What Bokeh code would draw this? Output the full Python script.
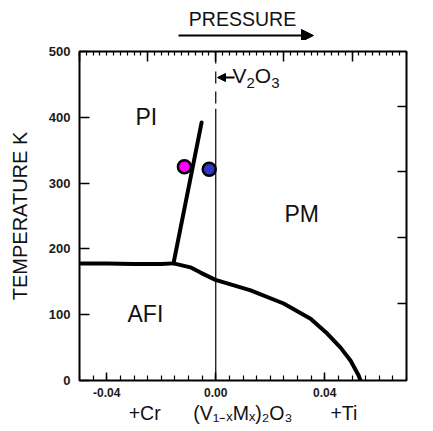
from bokeh.plotting import figure
from bokeh.layouts import column
from bokeh.models import (FixedTicker, LinearAxis, Label, Arrow, NormalHead, Range1d,
                          PrintfTickFormatter, CustomJSTickFormatter)
from bokeh.core.properties import value
from bokeh.embed import file_html
from bokeh.resources import INLINE

# ---- data ----
afi_pi_x = [-0.0495, -0.040, -0.030, -0.020, -0.0155]
afi_pi_t = [178, 178, 177, 177, 178]
pi_pm_x = [-0.0155, -0.0052]
pi_pm_t = [178, 392]
afi_pm_x = [-0.0155, -0.0093, -0.0056, -0.0001, 0.0128, 0.0249, 0.0348, 0.0410, 0.0458, 0.0495, 0.0524, 0.0531]
afi_pm_t = [178, 172, 164, 153, 137, 117, 94, 71, 50, 30, 8, 0]
v2o3_x = [0.0, 0.0]
v2o3_dash_t = [500, 413]
v2o3_solid_t = [413, 0]
dot_x = [-0.0115, -0.0024]
dot_t = [325, 321]
dot_colors = ["#ff00ff", "#3333cc"]
x_major = [-0.04, 0.0, 0.04]
y_major = [0, 100, 200, 300, 400, 500]
right_ticks = [117, 217, 317, 417]
top_major = [-0.05, -0.025, 0.0, 0.025, 0.05]
NB = "\u00a0"
composition_label = ("+Cr" + NB * 6 + "(V\u2081\u208b\u2093M\u2093)\u2082O\u2083" + NB * 7 + "+Ti")

FONT = "Liberation Sans"
PW, PH = 433, 431
# frame position on the page (pixels)
FL, FR, FT, FB = 79, 406, 51, 380
TOP_H = 40

W = {'V': .667, 'O': .778, '2': .556, '3': .556}

def corr(size):
    # rendered baseline sits lower than requested; lift it
    return 0.36 * size

# ---- top strip: PRESSURE + arrow ----
top = figure(width=PW, height=TOP_H, x_range=Range1d(FL, FR), y_range=Range1d(TOP_H, 0),
             min_border=0, toolbar_location=None, output_backend="svg",
             x_axis_location=None, y_axis_location=None)
top.grid.visible = False
top.outline_line_color = None
top.text(x=[242], y=[26 - corr(19.5)], text=["PRESSURE"], text_font=value(FONT),
         text_font_size=value("19.5px"), text_align="center", text_baseline="alphabetic",
         text_color="#111111")
top.add_layout(Arrow(end=NormalHead(size=12, fill_color="black", line_color="black"),
                     x_start=178, y_start=35, x_end=313, y_end=35,
                     line_width=2, line_color="black"))

# ---- main figure ----
p = figure(frame_width=FR - FL, frame_height=FB - FT,
           x_range=(-0.05, 0.07), y_range=(0, 500),
           output_backend="svg", toolbar_location=None,
           min_border_left=FL, min_border_right=PW - FR,
           min_border_top=FT - TOP_H, min_border_bottom=PH - FB,
           x_axis_location=None, y_axis_location=None)
p.grid.visible = False
p.outline_line_color = "black"
p.outline_line_width = 2
p.background_fill_color = "white"
p.border_fill_color = "white"

blank = CustomJSTickFormatter(code="return ''")

def style_axis(ax):
    ax.axis_line_color = None
    ax.major_tick_line_color = "black"
    ax.minor_tick_line_color = "black"
    ax.major_tick_line_width = 1.5
    ax.minor_tick_line_width = 1.2
    ax.major_tick_out = 0
    ax.minor_tick_out = 0
    ax.major_label_text_font = FONT
    ax.major_label_text_font_style = "bold"
    ax.major_label_text_color = "#1a1a1a"
    ax.axis_label_text_font = FONT
    ax.axis_label_text_font_style = "normal"
    ax.axis_label_text_color = "#111111"

minor_b = [round(-0.05 + 0.005 * i, 4) for i in range(25)]
bax = LinearAxis(ticker=FixedTicker(ticks=x_major, minor_ticks=minor_b),
                 formatter=PrintfTickFormatter(format="%.2f"),
                 axis_label=composition_label)
style_axis(bax)
bax.major_tick_in = 8
bax.minor_tick_in = 5
bax.major_label_standoff = 7
bax.major_label_text_font_size = "12px"
bax.axis_label_text_font_size = "19.5px"
bax.axis_label_standoff = 2
p.add_layout(bax, "below")

minor_t = [round(-0.05 + 0.0025 * i, 5) for i in range(49)]
tax = LinearAxis(ticker=FixedTicker(ticks=top_major, minor_ticks=minor_t), formatter=blank)
style_axis(tax)
tax.major_tick_in = 10
tax.minor_tick_in = 4
tax.major_label_standoff = 0
p.add_layout(tax, "above")

lax = LinearAxis(ticker=FixedTicker(ticks=y_major), axis_label="TEMPERATURE K")
style_axis(lax)
lax.major_tick_in = 10
lax.minor_tick_line_color = None
lax.major_label_standoff = 9
lax.major_label_text_font_size = "13px"
lax.axis_label_text_font_size = "20px"
lax.axis_label_standoff = 15
p.add_layout(lax, "left")

rax = LinearAxis(ticker=FixedTicker(ticks=right_ticks), formatter=blank)
style_axis(rax)
rax.major_tick_in = 9
rax.minor_tick_line_color = None
rax.major_label_standoff = 0
p.add_layout(rax, "right")

p.line(v2o3_x, v2o3_dash_t, line_color="black", line_width=1.2, line_dash="12 8")
p.line(v2o3_x, v2o3_solid_t, line_color="black", line_width=1.2)

for xs, ts in [(afi_pi_x, afi_pi_t), (pi_pm_x, pi_pm_t), (afi_pm_x, afi_pm_t)]:
    p.line(xs, ts, line_color="black", line_width=4, line_cap="round", line_join="round")

p.scatter(dot_x, dot_t, size=13, fill_color=dot_colors, line_color="black", line_width=2.5)

def sx(px):
    return px - FL
def sy(py):
    return FB - py

def lab(text, px, py, size):
    p.add_layout(Label(x=sx(px), y=sy(py - corr(size)), x_units="screen", y_units="screen",
                       text=text, text_font=FONT, text_font_size=f"{size}px",
                       text_align="left", text_baseline="alphabetic", text_color="#111111"))

lab("PI", 135, 125, 23)
lab("PM", 284, 222, 23)
lab("AFI", 127, 322, 23)

p.add_layout(Arrow(end=NormalHead(size=8, fill_color="black", line_color="black"),
                   x_start=sx(234), y_start=sy(77), x_end=sx(217), y_end=sy(77),
                   start_units="screen", end_units="screen",
                   line_width=2, line_color="black"))
xx = 232
for txt, size, shift in [("V", 21, 0), ("2", 15, 5), ("O", 21, 0), ("3", 15, 5)]:
    lab(txt, xx, 83 + shift, size)
    xx += sum(W[c] for c in txt) * size

layout = column(top, p, spacing=0)
open("out.html", "w").write(file_html(layout, INLINE))
